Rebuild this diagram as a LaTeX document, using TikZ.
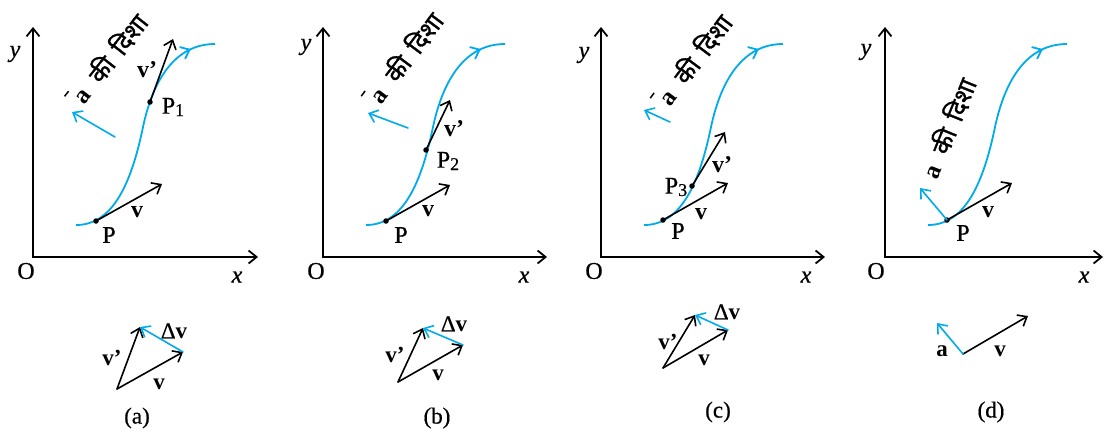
\documentclass[tikz,border=0pt]{standalone}
\usepackage{fontspec}
\setmainfont{Liberation Serif}[UprightFeatures={FakeBold=0.6}, ItalicFeatures={FakeBold=0.6}]
\newfontfamily\devfont[Script=Devanagari, FakeBold=1.2]{Noto Sans}
\usetikzlibrary{arrows.meta,decorations.markings}
\definecolor{cblue}{RGB}{0,170,235}
\newcommand\abar{\rlap{\hspace{-0.2em}\raisebox{0.85em}{\rule{0.26em}{0.06em}}}\textbf{a}}
\newcommand\subn[1]{\raisebox{-0.1em}{\fontsize{18}{18}\selectfont #1}}
\newcommand\kidisha{{\devfont की\hspace{0.4em}दिशा}}
\newcommand\scurve{\draw[curvepath] (76,225) .. controls (110,225) and (130,190) .. (143,127) .. controls (153,80) and (175,44) .. (215,44);}
\tikzset{
  tipA/.tip={Straight Barb[length=8pt,width=13pt]},
  axis/.style={line width=1.8pt, line join=miter, {tipA}-{tipA}},
  vec/.style={line width=1.6pt, line cap=round, -{tipA}},
  bvec/.style={vec, draw=cblue},
  curvepath/.style={draw=cblue, line width=1.8pt, postaction={decorate},
    decoration={markings, mark=at position 0.9 with {\arrow[cblue]{tipA}}}},
  lab/.style={font=\fontsize{24}{28}\selectfont, inner sep=0pt},
  blab/.style={font=\fontsize{23}{26}\selectfont, inner sep=0pt},
  captext/.style={font=\fontsize{23}{26}\selectfont, inner sep=0pt},
  dot/.style={circle, fill=black, inner sep=0pt, minimum size=5.5pt},
  dirtext/.style={font=\fontsize{25}{28}\selectfont, inner sep=0pt},
}
\begin{document}
\begin{tikzpicture}[x=1pt,y=-1pt]
\useasboundingbox (0,0) rectangle (1105,432);

% ---------------- panel (a) ----------------
\coordinate (Oa) at (33,257); \coordinate (ya) at (33,27); \coordinate (xa) at (258,257);
\draw[axis] (ya) -- (Oa) -- (xa);
\node[lab] (lya) at (15,54) {\textit{y}};
\node[lab] (lOa) at (26,271) {O};
\node[lab] (lxa) at (237,277) {\textit{x}};
\scurve
\node[dot] (Pa) at (96,221) {};
\coordinate (va) at (162,184);
\draw[vec] (Pa.center) -- (va);
\node[lab] (lPa) at (109,235) {P};
\node[lab] (lva) at (137,212) {\textbf{v}};
\node[dot] (P1) at (150,102) {};
\coordinate (v1) at (173,39);
\draw[vec] (P1.center) -- (v1);
\node[lab] (lv1) at (147,70) {\textbf{v'}};
\node[lab] (lP1) at (173,107) {P\subn{1}};
\coordinate (aa0) at (115,137); \coordinate (aa1) at (72,112);
\draw[bvec] (aa0) -- (aa1);
\node[dirtext, rotate=52] (ta) at (109,58) {\abar\hspace{0.55em}\kidisha};

% bottom (a)
\coordinate (ba) at (117,389); \coordinate (bva) at (183,352); \coordinate (bv1) at (140,327);
\draw[vec] (ba) -- (bva);
\draw[vec] (ba) -- (bv1);
\draw[bvec] (bva) -- (bv1);
\node[blab] (lbva) at (159,384) {\textbf{v}};
\node[blab] (lbv1) at (112,358) {\textbf{v'}};
\node[blab] (ldva) at (174,331) {Δ\textbf{v}};
\node[captext] (capa) at (137,418) {(a)};

% ---------------- panel (b) ----------------
\coordinate (Ob) at (323,257); \coordinate (yb) at (323,27); \coordinate (xb) at (547,257);
\draw[axis] (yb) -- (Ob) -- (xb);
\node[lab] (lyb) at (306,47) {\textit{y}};
\node[lab] (lOb) at (316,271) {O};
\node[lab] (lxb) at (524,277) {\textit{x}};
\begin{scope}[xshift=290pt]\scurve\end{scope}
\node[dot] (Pb) at (386,221) {};
\coordinate (vb) at (450,185);
\draw[vec] (Pb.center) -- (vb);
\node[lab] (lPb) at (401,235) {P};
\node[lab] (lvb) at (428,211) {\textbf{v}};
\node[dot] (P2) at (426,150) {};
\coordinate (v2) at (450,100);
\draw[vec] (P2.center) -- (v2);
\node[lab] (lv2) at (454,129) {\textbf{v'}};
\node[lab] (lP2) at (448,161) {P\subn{2}};
\coordinate (ab0) at (408,128); \coordinate (ab1) at (368,113);
\draw[bvec] (ab0) -- (ab1);
\node[dirtext, rotate=53] (tb) at (405,57) {\abar\hspace{0.55em}\kidisha};

% bottom (b)
\coordinate (bb) at (398,382); \coordinate (bvb) at (463,345); \coordinate (bv2) at (423,328);
\draw[vec] (bb) -- (bvb);
\draw[vec] (bb) -- (bv2);
\draw[bvec] (bvb) -- (bv2);
\node[blab] (lbvb) at (438,375) {\textbf{v}};
\node[blab] (lbv2) at (395,355) {\textbf{v'}};
\node[blab] (ldvb) at (454,324) {Δ\textbf{v}};
\node[captext] (capb) at (437,418) {(b)};

% ---------------- panel (c) ----------------
\coordinate (Oc) at (601,257); \coordinate (yc) at (601,27); \coordinate (xc) at (825,257);
\draw[axis] (yc) -- (Oc) -- (xc);
\node[lab] (lyc) at (584,55) {\textit{y}};
\node[lab] (lOc) at (594,271) {O};
\node[lab] (lxc) at (806,277) {\textit{x}};
\begin{scope}[xshift=568pt]\scurve\end{scope}
\node[dot] (Pc) at (663,220) {};
\coordinate (vc) at (728,183);
\draw[vec] (Pc.center) -- (vc);
\node[lab] (lPc) at (678,231) {P};
\node[lab] (lvc) at (701,214) {\textbf{v}};
\node[dot] (P3) at (692,186) {};
\coordinate (v3) at (725,132);
\draw[vec] (P3.center) -- (v3);
\node[lab] (lv3) at (722,165) {\textbf{v'}};
\node[lab] (lP3) at (676,187) {P\subn{3}};
\coordinate (ac0) at (670,122); \coordinate (ac1) at (644,110);
\draw[bvec] (ac0) -- (ac1);
\node[dirtext, rotate=53] (tc) at (694,59) {\abar\hspace{0.55em}\kidisha};

% bottom (c)
\coordinate (bc) at (663,368); \coordinate (bvc) at (728,330); \coordinate (bv3) at (695,315);
\draw[vec] (bc) -- (bvc);
\draw[vec] (bc) -- (bv3);
\draw[bvec] (bvc) -- (bv3);
\node[blab] (lbvc) at (704,360) {\textbf{v}};
\node[blab] (lbv3) at (668,342) {\textbf{v'}};
\node[blab] (ldvc) at (727,312) {Δ\textbf{v}};
\node[captext] (capc) at (718,412) {(c)};

% ---------------- panel (d) ----------------
\coordinate (Od) at (885,257); \coordinate (yd) at (885,27); \coordinate (xd) at (1103,257);
\draw[axis] (yd) -- (Od) -- (xd);
\node[lab] (lyd) at (866,52) {\textit{y}};
\node[lab] (lOd) at (876,271) {O};
\node[lab] (lxd) at (1084,277) {\textit{x}};
\begin{scope}[xshift=852pt]\scurve\end{scope}
\node[dot] (Pd) at (947,220) {};
\coordinate (vd) at (1012,183);
\draw[vec] (Pd.center) -- (vd);
\coordinate (ad) at (920,188);
\draw[bvec] (Pd.center) -- (ad);
\node[lab] (lPd) at (963,233) {P};
\node[lab] (lvd) at (988,212) {\textbf{v}};
\node[dirtext, rotate=68] (td) at (948,128) {\textbf{a}\hspace{0.55em}\kidisha};

% bottom (d)
\coordinate (bd) at (963,354); \coordinate (bvd) at (1028,316); \coordinate (bad) at (937,323);
\draw[vec] (bd) -- (bvd);
\draw[bvec] (bd) -- (bad);
\node[blab] (lbad) at (942,351) {\textbf{a}};
\node[blab] (lbvd) at (1000,351) {\textbf{v}};
\node[captext] (capd) at (991,412) {(d)};
\end{tikzpicture}
\end{document}
